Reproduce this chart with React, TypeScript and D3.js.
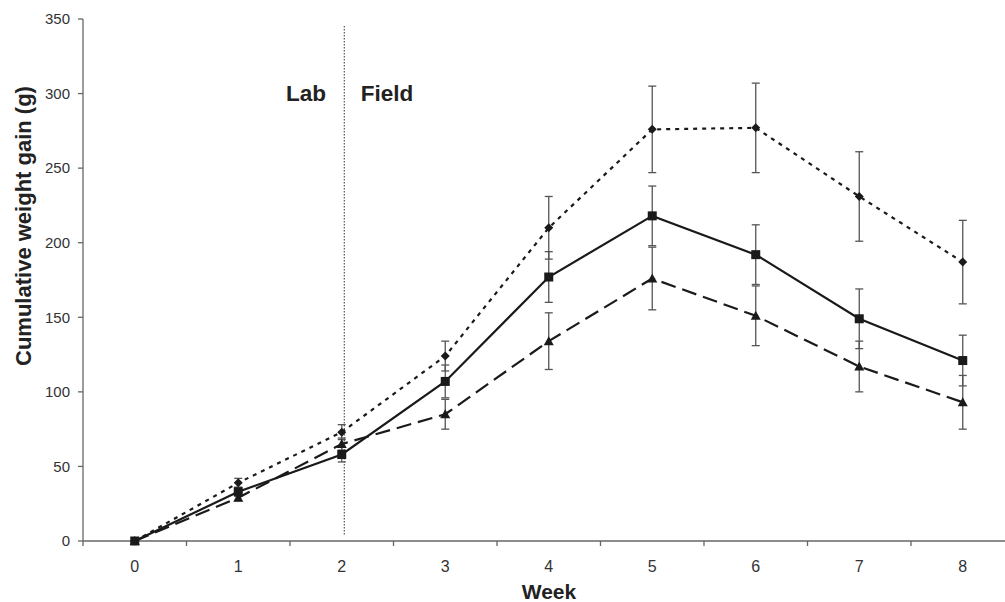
import React from "react";
import * as d3 from "d3";

const weeks = [0, 1, 2, 3, 4, 5, 6, 7, 8];
const yTicks = [0, 50, 100, 150, 200, 250, 300, 350];

// Series (dotted, diamond)
const diamondMean = [0, 39, 73, 124, 210, 276, 277, 231, 187];
const diamondErr = [0, 3, 5, 10, 21, 29, 30, 30, 28];
// Series (solid, square)
const squareMean = [0, 33, 58, 107, 177, 218, 192, 149, 121];
const squareErr = [0, 3, 5, 11, 17, 20, 20, 20, 17];
// Series (dashed, triangle)
const triangleMean = [0, 29, 65, 85, 134, 176, 151, 117, 93];
const triangleErr = [0, 2, 4, 10, 19, 21, 20, 17, 18];

const W = 1005;
const H = 602;

export default function App() {
  const left = 83;
  const band = 103.5;
  const x = d3.scaleBand<number>().domain(weeks).range([left, left + band * weeks.length]);
  const cx = (w: number) => (x(w) as number) + x.bandwidth() / 2;
  const y = d3.scaleLinear().domain([0, 350]).range([541, 19]);

  const series = [
    { mean: diamondMean, err: diamondErr, dash: "4,5", marker: "diamond" },
    { mean: squareMean, err: squareErr, dash: "", marker: "square" },
    { mean: triangleMean, err: triangleErr, dash: "15,7", marker: "triangle" },
  ];

  const line = d3
    .line<number>()
    .x((_, i) => cx(weeks[i]))
    .y((d) => y(d));

  const marker = (type: string, px: number, py: number, key: string) => {
    if (type === "square") {
      const s = 9;
      return <rect key={key} x={px - s / 2} y={py - s / 2} width={s} height={s} fill="#1a1a1a" />;
    }
    if (type === "diamond") {
      const s = 4.5;
      return (
        <path
          key={key}
          d={`M${px},${py - s}L${px + s},${py}L${px},${py + s}L${px - s},${py}Z`}
          fill="#1a1a1a"
        />
      );
    }
    const s = 5;
    return (
      <path
        key={key}
        d={`M${px},${py - s}L${px + s},${py + s * 0.8}L${px - s},${py + s * 0.8}Z`}
        fill="#1a1a1a"
      />
    );
  };

  const xEnd = left + band * weeks.length;
  const boundaries = d3.range(weeks.length + 1).map((i) => left + i * band);

  return (
    <svg
      width={W}
      height={H}
      style={{ position: "absolute", left: 0, top: 0, background: "#fff" }}
      fontFamily="Arial, Liberation Sans, sans-serif"
    >
      {/* axes */}
      <line x1={left} y1={y(350)} x2={left} y2={y(0)} stroke="#666" strokeWidth={1.3} />
      <line x1={left} y1={y(0)} x2={xEnd} y2={y(0)} stroke="#666" strokeWidth={1.3} />
      {yTicks.map((t) => (
        <g key={"yt" + t}>
          <line x1={left - 5} x2={left} y1={y(t)} y2={y(t)} stroke="#666" strokeWidth={1.3} />
          <text x={70} y={y(t)} dy="0.35em" textAnchor="end" fontSize={15} fill="#333">
            {t}
          </text>
        </g>
      ))}
      {boundaries.map((b, i) => (
        <line key={"xt" + i} x1={b} x2={b} y1={y(0)} y2={y(0) + 5} stroke="#666" strokeWidth={1.3} />
      ))}
      {weeks.map((w) => (
        <text key={"xl" + w} x={cx(w)} y={572} textAnchor="middle" fontSize={16} fill="#333">
          {w}
        </text>
      ))}

      {/* lab / field divider */}
      <line
        x1={cx(2) + 2.5}
        x2={cx(2) + 2.5}
        y1={26}
        y2={536}
        stroke="#333"
        strokeWidth={1}
        strokeDasharray="1.5,1.5"
      />
      <text x={306} y={101} textAnchor="middle" fontSize={22.5} fontWeight="bold" fill="#222">
        Lab
      </text>
      <text x={387} y={101} textAnchor="middle" fontSize={22.5} fontWeight="bold" fill="#222">
        Field
      </text>

      {/* error bars */}
      {series.map((s, si) =>
        s.mean.map((m, i) =>
          s.err[i] > 0 ? (
            <g key={`e${si}-${i}`} stroke="#555" strokeWidth={1.3}>
              <line x1={cx(weeks[i])} x2={cx(weeks[i])} y1={y(m + s.err[i])} y2={y(m - s.err[i])} />
              <line x1={cx(weeks[i]) - 4} x2={cx(weeks[i]) + 4} y1={y(m + s.err[i])} y2={y(m + s.err[i])} />
              <line x1={cx(weeks[i]) - 4} x2={cx(weeks[i]) + 4} y1={y(m - s.err[i])} y2={y(m - s.err[i])} />
            </g>
          ) : null
        )
      )}

      {/* lines */}
      {series.map((s, si) => (
        <path
          key={"l" + si}
          d={line(s.mean) as string}
          fill="none"
          stroke="#1a1a1a"
          strokeWidth={2.2}
          strokeDasharray={s.dash || undefined}
        />
      ))}
      {series.map((s, si) => s.mean.map((m, i) => marker(s.marker, cx(weeks[i]), y(m), `m${si}-${i}`)))}

      {/* axis titles */}
      <text x={549} y={599} textAnchor="middle" fontSize={21} fontWeight="bold" fill="#222">
        Week
      </text>
      <text
        transform={`translate(31,${226}) rotate(-90)`}
        textAnchor="middle"
        fontSize={22}
        fontWeight="bold"
        fill="#222"
      >
        Cumulative weight gain (g)
      </text>
    </svg>
  );
}
